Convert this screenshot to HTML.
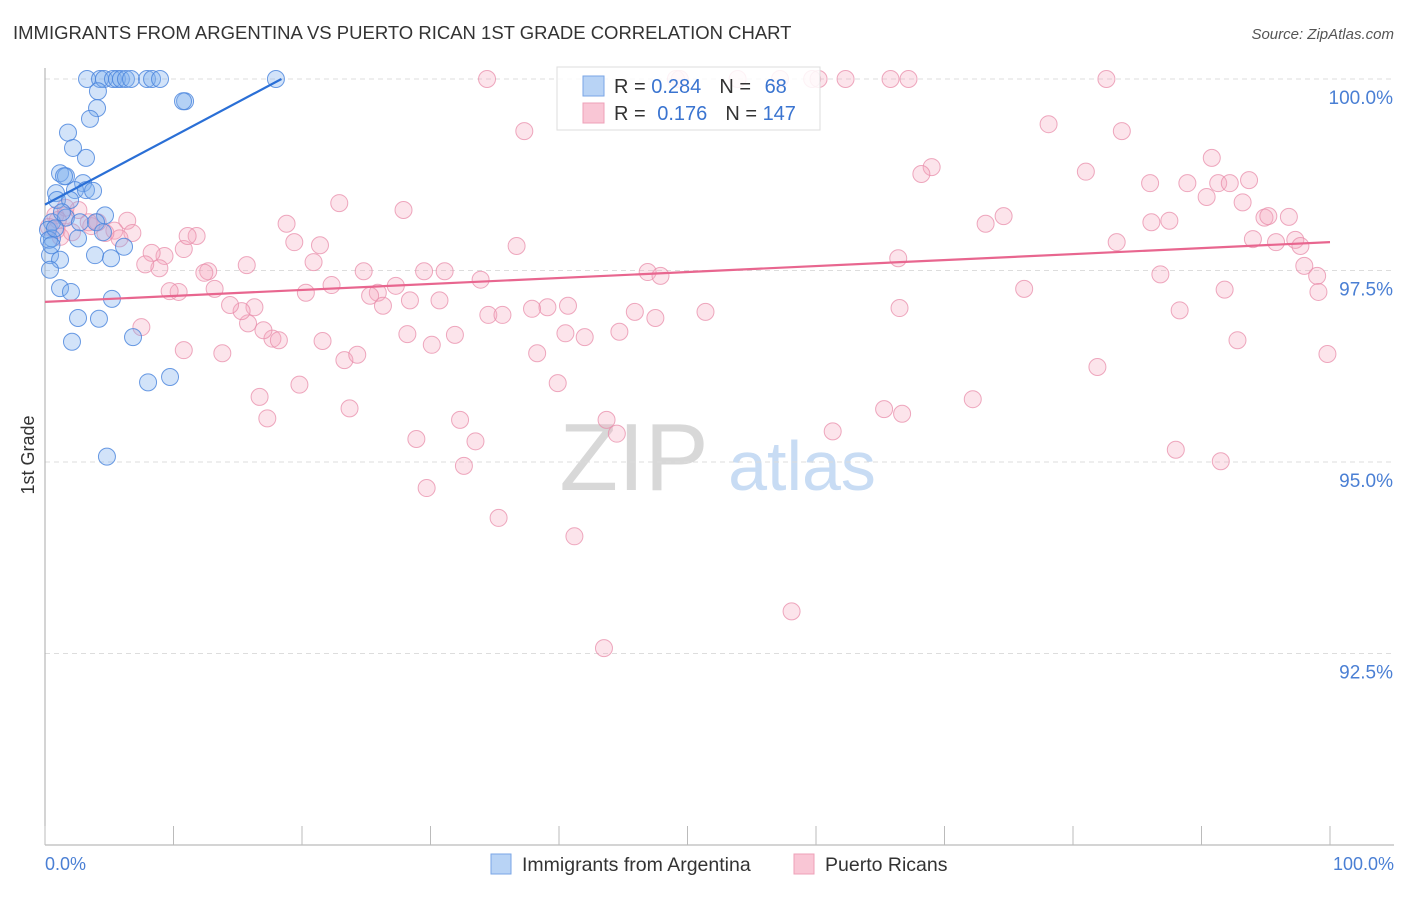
<!DOCTYPE html>
<html><head><meta charset="utf-8"><style>
body{margin:0;background:#fff;font-family:"Liberation Sans",sans-serif}
svg text{font-family:"Liberation Sans",sans-serif}
</style></head><body>
<svg id="chart" width="1406" height="892" viewBox="0 0 1406 892">
<text x="13" y="39" font-size="18.5" fill="#333">IMMIGRANTS FROM ARGENTINA VS PUERTO RICAN 1ST GRADE CORRELATION CHART</text>
<text x="1394" y="39" font-size="15" fill="#555" text-anchor="end" font-style="italic">Source: ZipAtlas.com</text>
<g>
<text x="634" y="490" font-size="96" fill="#d8d8d8" font-family="Liberation Serif" text-anchor="middle">ZIP</text>
<text x="802" y="490" font-size="70" fill="#c8dcf4" text-anchor="middle">atlas</text>
</g>
<g id="grid"></g>
<line x1="45" y1="68" x2="45" y2="845" stroke="#aaa" stroke-width="1"/>
<line x1="45" y1="845" x2="1394" y2="845" stroke="#aaa" stroke-width="1"/>
<g id="xticks"></g>
<text transform="translate(34,455) rotate(-90)" font-size="18" fill="#333" text-anchor="middle">1st Grade</text>
<text x="45" y="870" font-size="18" fill="#4a7fd4">0.0%</text>
<text x="1394" y="870" font-size="18" fill="#4a7fd4" text-anchor="end">100.0%</text>
<g id="pink"></g>
<g id="blue"></g>
<g id="lines"></g>
<g>
<rect x="557" y="67" width="263" height="63" fill="#fff" fill-opacity="0.85" stroke="#ddd"/>
<rect x="583" y="76" width="21" height="20" fill="#b8d3f5" stroke="#7aa6e6"/>
<rect x="583" y="103" width="21" height="20" fill="#f9c6d5" stroke="#eea0b8"/>
<text x="614" y="93" font-size="20" fill="#333">R = <tspan fill="#3a74d0">0.284</tspan><tspan dx="18">N = </tspan><tspan dx="8" fill="#3a74d0">68</tspan></text>
<text x="614" y="120" font-size="20" fill="#333">R = <tspan dx="6" fill="#3a74d0">0.176</tspan><tspan dx="18">N = </tspan><tspan fill="#3a74d0">147</tspan></text>
</g>
<g>
<rect x="491" y="854" width="20" height="20" fill="#b8d3f5" stroke="#7aa6e6"/>
<text x="522" y="871" font-size="19.5" fill="#333">Immigrants from Argentina</text>
<rect x="794" y="854" width="20" height="20" fill="#f9c6d5" stroke="#eea0b8"/>
<text x="825" y="871" font-size="19.5" fill="#333">Puerto Ricans</text>
</g>
</svg>
<script>
const yTicks=[100,97.5,95,92.5];
const yTickLabels=["100.0%","97.5%","95.0%","92.5%"];
const blueX=[3.27,4.28,4.59,5.29,5.6,5.91,6.3,6.69,7.94,8.33,8.95,17.97,4.12,4.05,3.5,10.9,10.74,1.79,2.18,3.19,1.17,1.63,1.48,2.96,0.86,2.33,3.19,3.74,0.93,1.95,4.67,0.54,1.63,2.72,3.97,0.23,0.54,2.57,4.51,0.31,3.89,5.14,6.15,0.39,1.17,0.39,1.17,2.02,5.21,2.57,4.2,2.1,6.85,8.02,9.73,4.82,0.78,1.32,0.5];
const blueY=[100,100,100,100,100,100,100,100,100,100,100,100,99.84,99.62,99.48,99.71,99.71,99.3,99.1,98.97,98.77,98.73,98.73,98.64,98.51,98.55,98.55,98.54,98.42,98.42,98.22,98.13,98.19,98.13,98.13,98.03,97.92,97.92,98.0,97.9,97.7,97.66,97.81,97.7,97.64,97.51,97.27,97.22,97.13,96.88,96.87,96.57,96.63,96.04,96.11,95.07,98.05,98.26,97.83];
const pinkX=[34.4,49.1,49.4,53.9,57.2,59.7,60.2,62.3,65.8,67.2,82.6,37.3,78.1,83.8,90.8,69.0,68.2,81.0,86.0,88.9,91.3,92.2,93.7,90.4,93.2,22.9,27.9,74.6,73.2,86.1,87.5,94.9,96.8,95.2,18.8,19.4,11.8,21.4,36.7,83.4,94.0,95.8,97.3,97.7,98.0,99.0,99.1,99.8,86.8,88.3,92.8,81.9,91.8,88.0,91.5,66.4,66.5,46.9,47.9,51.4,47.5,45.9,44.7,42.0,40.5,39.1,40.7,37.9,34.5,35.6,33.9,31.1,29.5,30.7,28.4,27.3,25.9,25.3,26.3,24.8,22.3,20.9,20.3,17.7,18.2,21.6,23.3,24.3,28.2,30.1,31.9,38.3,39.9,19.8,16.7,17.3,23.7,28.9,32.3,33.5,32.6,29.7,35.3,41.2,43.7,44.5,58.1,43.5,61.3,65.3,66.7,72.2,76.2,17.0,15.8,16.3,15.3,14.4,13.2,12.7,12.4,10.4,9.7,10.8,13.8,15.7,9.3,8.9,8.3,7.8,7.5,6.4,6.8,5.4,5.8,4.7,3.6,4.1,0.8,0.9,1.2,1.6,2.1,2.6,3.4,10.8,11.1,1.6,1.0,0.3];
const pinkY=[100,100,100,100,100,100,100,100,100,100,100,99.32,99.41,99.32,98.97,98.85,98.76,98.79,98.64,98.64,98.64,98.64,98.68,98.46,98.39,98.38,98.29,98.21,98.11,98.13,98.15,98.19,98.2,98.21,98.11,97.87,97.95,97.83,97.82,97.87,97.91,97.87,97.9,97.82,97.56,97.43,97.22,96.41,97.45,96.98,96.59,96.24,97.25,95.16,95.01,97.66,97.01,97.48,97.43,96.96,96.88,96.96,96.7,96.63,96.68,97.02,97.04,97.0,96.92,96.92,97.38,97.49,97.49,97.11,97.11,97.3,97.21,97.17,97.04,97.49,97.31,97.61,97.21,96.61,96.59,96.58,96.33,96.4,96.67,96.53,96.66,96.42,96.03,96.01,95.85,95.57,95.7,95.3,95.55,95.27,94.95,94.66,94.27,94.03,95.55,95.37,93.05,92.57,95.4,95.69,95.63,95.82,97.26,96.72,96.81,97.02,96.97,97.05,97.26,97.49,97.47,97.22,97.23,96.46,96.42,97.57,97.69,97.53,97.73,97.58,96.76,98.15,97.99,98.02,97.92,97.99,98.08,98.13,98.22,98.03,97.94,98.22,98.0,98.29,98.13,97.78,97.95,98.32,98.16,98.07];
const blueTrend=[[0,98.36],[18.4,100]];
const pinkTrend=[[0,97.09],[100,97.87]];
const xs=v=>45+v*12.85;
const ys=v=>79+(100-v)*76.6;
const NS="http://www.w3.org/2000/svg";
function mk(tag,attrs,parent){const e=document.createElementNS(NS,tag);for(const k in attrs)e.setAttribute(k,attrs[k]);parent.appendChild(e);return e;}
const grid=document.getElementById('grid');
yTicks.forEach((t,i)=>{
 const l=mk('line',{x1:45,x2:1394,y1:ys(t),y2:ys(t),stroke:'#ddd','stroke-dasharray':'5,4'},grid);
 
 
 const tx=mk('text',{x:1393,y:ys(t)+25,'font-size':19,fill:'#4a7fd4','text-anchor':'end'},grid);
 tx.textContent=yTickLabels[i];
 
 
});
const xt=document.getElementById('xticks');
for(let i=0;i<=10;i++){
 const l=mk('line',{x1:xs(i*10),x2:xs(i*10),y1:826,y2:845,stroke:'#bbb'},xt);
 
 
}
const pg=document.getElementById('pink');
pinkX.forEach((x,i)=>{
 const c=mk('circle',{cx:xs(x),cy:ys(pinkY[i]),r:8.5,fill:'rgba(246,165,190,0.3)',stroke:'rgba(232,140,170,0.75)','stroke-width':1},pg);
 
 
});
const bg=document.getElementById('blue');
blueX.forEach((x,i)=>{
 const c=mk('circle',{cx:xs(x),cy:ys(blueY[i]),r:8.5,fill:'rgba(125,175,238,0.35)',stroke:'rgba(70,130,220,0.8)','stroke-width':1},bg);
 
 
});
const lg=document.getElementById('lines');
const bl=mk('line',{x1:xs(blueTrend[0][0]),y1:ys(blueTrend[0][1]),x2:xs(blueTrend[1][0]),y2:ys(blueTrend[1][1]),stroke:'#2a6fd6','stroke-width':2.2},lg);


const pl=mk('line',{x1:xs(pinkTrend[0][0]),y1:ys(pinkTrend[0][1]),x2:xs(pinkTrend[1][0]),y2:ys(pinkTrend[1][1]),stroke:'#e8668f','stroke-width':2.2},lg);


</script>
</body></html>
